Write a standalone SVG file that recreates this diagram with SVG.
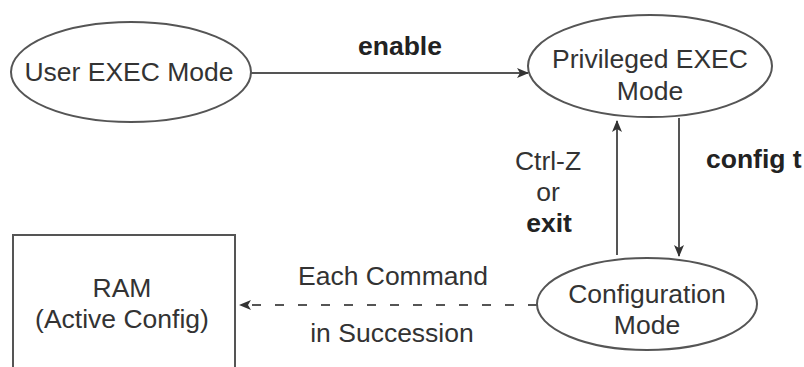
<svg xmlns="http://www.w3.org/2000/svg" width="804" height="367" viewBox="0 0 804 367">
  <style>
    .shape { fill: #ffffff; stroke: #555555; stroke-width: 2; }
    .lbl { font-family: "Liberation Sans", Arial, sans-serif; font-size: 26.5px; fill: #333333; text-anchor: middle; }
    .bold { font-weight: bold; fill: #222222; }
    .edge { fill: none; stroke: #555555; stroke-width: 2; }
    .dash { stroke-dasharray: 9 14; }
  </style>
  <defs>
    <marker id="arrow" viewBox="0 0 12 10" refX="11" refY="5" markerWidth="12" markerHeight="10" markerUnits="userSpaceOnUse" orient="auto">
      <path d="M0,0 L12,5 L0,10 L3,5 Z" fill="#333333"/>
    </marker>
  </defs>

  <g id="user-exec">
    <ellipse class="shape" cx="131" cy="72" rx="120" ry="50"/>
    <text class="lbl" x="129" y="81">User EXEC Mode</text>
  </g>

  <g id="privileged-exec">
    <ellipse class="shape" cx="650" cy="66" rx="122" ry="51"/>
    <text class="lbl" x="650" y="68">Privileged EXEC</text>
    <text class="lbl" x="650" y="100">Mode</text>
  </g>

  <g id="configuration">
    <ellipse class="shape" cx="647" cy="304" rx="110" ry="46"/>
    <text class="lbl" x="647" y="303">Configuration</text>
    <text class="lbl" x="647" y="334">Mode</text>
  </g>

  <g id="ram">
    <rect class="shape" x="13" y="235" width="222" height="140"/>
    <text class="lbl" x="122" y="297">RAM</text>
    <text class="lbl" x="122" y="328">(Active Config)</text>
  </g>

  <g id="connectors">
    <line class="edge" x1="251" y1="73" x2="528" y2="73" marker-end="url(#arrow)"/>
    <text class="lbl bold" x="400" y="55">enable</text>

    <line class="edge" x1="617" y1="255" x2="617" y2="121" marker-end="url(#arrow)"/>
    <text class="lbl" x="548" y="170">Ctrl-Z</text>
    <text class="lbl" x="548" y="201">or</text>
    <text class="lbl bold" x="549" y="232">exit</text>

    <line class="edge" x1="679" y1="118" x2="679" y2="256" marker-end="url(#arrow)"/>
    <text class="lbl bold" x="706" y="168" style="text-anchor:start">config t</text>

    <line class="edge dash" x1="537" y1="305" x2="240" y2="305" marker-end="url(#arrow)"/>
    <text class="lbl" x="393" y="285">Each Command</text>
    <text class="lbl" x="392" y="342">in Succession</text>
  </g>
</svg>
